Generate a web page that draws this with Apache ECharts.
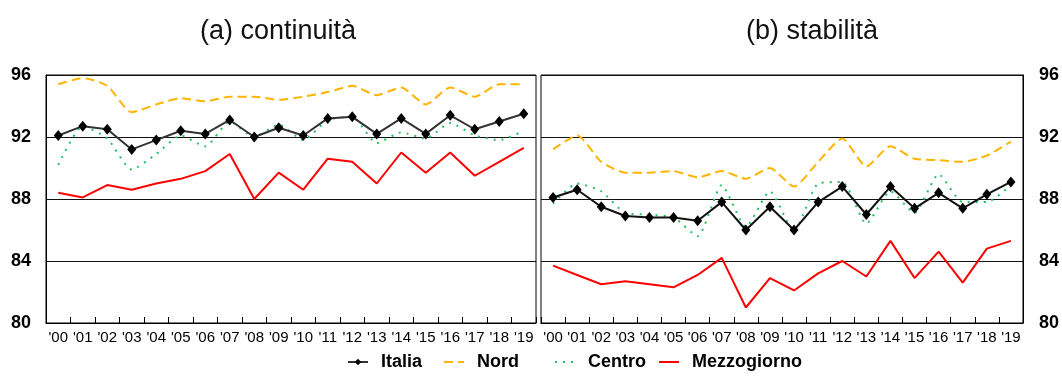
<!DOCTYPE html>
<html>
<head>
<meta charset="utf-8">
<script src="https://cdn.jsdelivr.net/npm/echarts@6/dist/echarts.min.js"></script>
<style>
  html, body { margin: 0; padding: 0; background: #fff; }
  #chart { width: 1062px; height: 378px; }
</style>
</head>
<body>
<div id="chart"></div>
<script>
// Years on the horizontal axis (2000-2019)
const years = ["'00","'01","'02","'03","'04","'05","'06","'07","'08","'09",
               "'10","'11","'12","'13","'14","'15","'16","'17","'18","'19"];

// Vertical scale
const yMin = 80, yMax = 96, yStep = 4;

// Panel titles
const panelTitles = ['(a) continuità', '(b) stabilità'];

// Series names
const seriesNames = ['Italia', 'Nord', 'Centro', 'Mezzogiorno'];

// (a) continuità
const italiaCont = [92.1, 92.7, 92.5, 91.2, 91.8, 92.4, 92.2, 93.1, 92.0, 92.6, 92.1, 93.2, 93.3, 92.2, 93.2, 92.2, 93.4, 92.5, 93.0, 93.5];
const nordCont   = [95.4, 95.8, 95.3, 93.6, 94.1, 94.5, 94.3, 94.6, 94.6, 94.4, 94.6, 94.9, 95.3, 94.7, 95.2, 94.1, 95.2, 94.6, 95.4, 95.4];
const centroCont = [90.2, 92.7, 91.9, 89.9, 90.9, 92.1, 91.4, 93.0, 92.0, 92.8, 91.8, 93.1, 93.3, 91.6, 92.3, 91.9, 92.9, 92.1, 91.8, 92.4];
const mezzCont   = [88.4, 88.1, 88.9, 88.6, 89.0, 89.3, 89.8, 90.9, 88.0, 89.7, 88.6, 90.6, 90.4, 89.0, 91.0, 89.7, 91.0, 89.5, 90.4, 91.3];

// (b) stabilità
const italiaStab = [88.1, 88.6, 87.5, 86.9, 86.8, 86.8, 86.6, 87.8, 86.0, 87.5, 86.0, 87.8, 88.8, 87.0, 88.8, 87.4, 88.4, 87.4, 88.3, 89.1];
const nordStab   = [91.2, 92.1, 90.4, 89.7, 89.7, 89.8, 89.4, 89.8, 89.3, 90.0, 88.8, 90.4, 91.9, 90.1, 91.4, 90.6, 90.5, 90.4, 90.8, 91.7];
const centroStab = [87.7, 89.0, 88.5, 87.1, 87.0, 86.8, 85.6, 88.9, 86.2, 88.5, 85.9, 89.0, 89.1, 86.4, 88.5, 87.1, 89.6, 87.8, 87.8, 88.9];
const mezzStab   = [83.7, 83.1, 82.5, 82.7, 82.5, 82.3, 83.1, 84.2, 81.0, 82.9, 82.1, 83.2, 84.0, 83.0, 85.3, 82.9, 84.6, 82.6, 84.8, 85.3];

const FONT = "'Liberation Sans', Arial, Helvetica, sans-serif";

const chart = echarts.init(document.getElementById('chart'), null, { renderer: 'canvas' });

function xAxisFor(gridIndex) {
  return {
    type: 'category',
    gridIndex: gridIndex,
    data: years,
    boundaryGap: true,
    axisLine: { show: true, lineStyle: { color: '#000', width: 1 } },
    axisTick: { show: true, inside: true, length: 6, lineStyle: { color: '#000', width: 1 } },
    axisLabel: { interval: 0, color: '#000', fontSize: 15, fontFamily: FONT, margin: 7 },
    splitLine: { show: false }
  };
}

function yAxisFor(gridIndex, position, showLabels) {
  return {
    type: 'value',
    gridIndex: gridIndex,
    position: position,
    min: yMin, max: yMax, interval: yStep,
    axisLine: { show: true, lineStyle: { color: '#000', width: 1 } },
    axisTick: { show: false },
    axisLabel: {
      show: showLabels, color: '#000', fontSize: 18, fontWeight: 'bold',
      fontFamily: FONT, margin: position === 'right' ? 16 : 15
    },
    splitLine: { show: true, lineStyle: { color: '#111', width: 1 } }
  };
}

function panelSeries(idx, italia, nord, centro, mezz, italiaColor) {
  return [
    {
      name: seriesNames[3], type: 'line', xAxisIndex: idx, yAxisIndex: idx, data: mezz,
      symbol: 'none', lineStyle: { color: '#ff0000', width: 2 }, itemStyle: { color: '#ff0000' }, z: 3
    },
    {
      name: seriesNames[1], type: 'line', xAxisIndex: idx, yAxisIndex: idx, data: nord,
      symbol: 'none', smooth: 0.2,
      lineStyle: { color: '#ffb400', width: 2, type: [9, 5] }, itemStyle: { color: '#ffb400' }, z: 3
    },
    {
      name: seriesNames[2], type: 'line', xAxisIndex: idx, yAxisIndex: idx, data: centro,
      symbol: 'none', smooth: 0.2,
      lineStyle: { color: '#22c060', width: 2, type: [2, 6] }, itemStyle: { color: '#22c060' }, z: 4
    },
    {
      name: seriesNames[0], type: 'line', xAxisIndex: idx, yAxisIndex: idx, data: italia,
      symbol: 'diamond', symbolSize: [9, 11], showSymbol: true,
      lineStyle: { color: italiaColor, width: 2 }, itemStyle: { color: '#000' }, z: 5
    }
  ];
}

// One legend block per series so each item sits where it belongs;
// only Italia shows a marker in its key
const legendSpots = [
  { name: seriesNames[0], left: 347, marker: true },
  { name: seriesNames[1], left: 443, marker: false },
  { name: seriesNames[2], left: 554, marker: false },
  { name: seriesNames[3], left: 658, marker: false }
];

const option = {
  backgroundColor: '#fff',
  animation: false,
  title: [
    { text: panelTitles[0], left: 273, top: 13, textAlign: 'center',
      textStyle: { fontSize: 27, fontWeight: 'normal', color: '#111', fontFamily: FONT } },
    { text: panelTitles[1], left: 807, top: 13, textAlign: 'center',
      textStyle: { fontSize: 27, fontWeight: 'normal', color: '#111', fontFamily: FONT } }
  ],
  grid: [
    { left: 46, top: 75, width: 490, height: 248, show: true, borderColor: '#000', borderWidth: 1, backgroundColor: 'transparent' },
    { left: 541, top: 75, width: 488, height: 248, show: true, borderColor: '#000', borderWidth: 1, backgroundColor: 'transparent' }
  ],
  xAxis: [xAxisFor(0), xAxisFor(1)],
  yAxis: [yAxisFor(0, 'left', true), yAxisFor(1, 'right', true)],
  legend: legendSpots.map(s => ({
    data: [s.marker ? s.name : { name: s.name, itemStyle: { opacity: 0 } }],
    left: s.left,
    top: 353,
    padding: 0,
    itemWidth: 20,
    itemHeight: 8,
    selectedMode: false,
    textStyle: { fontSize: 18, fontWeight: 'bold', color: '#000', fontFamily: FONT, padding: [0, 0, 0, 8] }
  })),
  series: [
    ...panelSeries(0, italiaCont, nordCont, centroCont, mezzCont, '#333'),
    ...panelSeries(1, italiaStab, nordStab, centroStab, mezzStab, '#111')
  ]
};

chart.setOption(option);
</script>
</body>
</html>
